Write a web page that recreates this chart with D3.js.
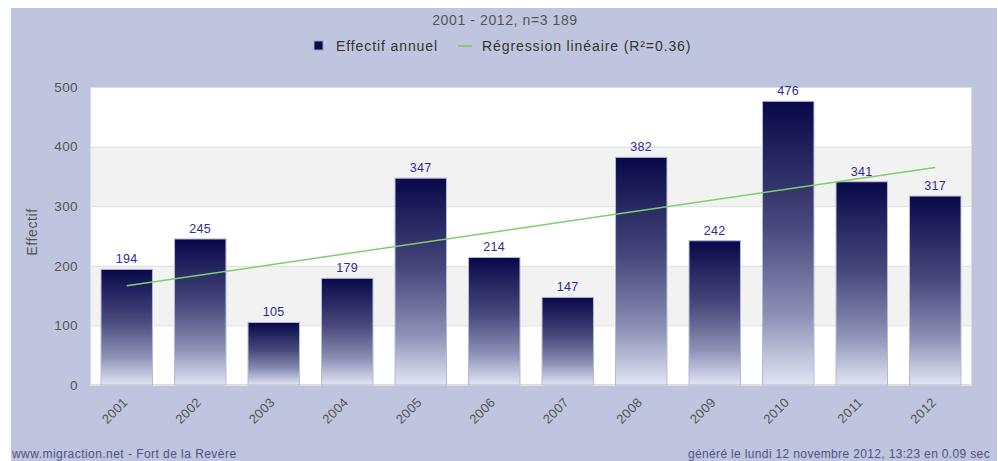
<!DOCTYPE html>
<html><head><meta charset="utf-8">
<script src="https://cdn.jsdelivr.net/npm/d3@7"></script>
<style>html,body{margin:0;padding:0;background:#fff;}svg{display:block;font-family:"Liberation Sans",Arial,sans-serif;}</style>
</head><body><svg id="c" width="998" height="461"></svg>
<script>
const years = ["2001","2002","2003","2004","2005","2006","2007","2008","2009","2010","2011","2012"];
const counts = [194,245,105,179,347,214,147,382,242,476,341,317];
const yTicks = [0,100,200,300,400,500];
const title = "2001 - 2012, n=3 189";
const legendLabels = ["Effectif annuel","Régression linéaire (R²=0.36)"];
const yTitle = "Effectif";
const footerLeft = "www.migraction.net - Fort de la Revère";
const footerRight = "généré le lundi 12 novembre 2012, 13:23 en 0.09 sec";

const svg = d3.select("#c");
svg.append("rect").attr("x",11).attr("y",8).attr("width",986).attr("height",453).attr("fill","#bfc5de");

const m = {l:90, r:972, t:87, b:385};
const x = d3.scaleBand().domain(years).range([m.l,m.r]).paddingInner(0.3).paddingOuter(0.15);
const y = d3.scaleLinear().domain([0,500]).range([m.b,m.t]);

const g = svg.append("g");
g.append("rect").attr("x",m.l).attr("y",m.t).attr("width",m.r-m.l).attr("height",m.b-m.t).attr("fill","#fff");
for (let i=0;i<yTicks.length-1;i++){
  if (i%2===1) g.append("rect").attr("x",m.l).attr("y",y(yTicks[i+1])).attr("width",m.r-m.l)
    .attr("height",y(yTicks[i])-y(yTicks[i+1])).attr("fill","#f2f2f2");
}
g.selectAll("line.grid").data(yTicks).join("line").attr("class","grid")
  .attr("x1",m.l).attr("x2",m.r).attr("y1",d=>y(d)+0.5).attr("y2",d=>y(d)+0.5)
  .attr("stroke","#e0e0e0").attr("stroke-width",1);
g.append("rect").attr("x",m.l+0.5).attr("y",m.t+0.5).attr("width",m.r-m.l-1).attr("height",m.b-m.t-1)
  .attr("fill","none").attr("stroke","#dcdcdc");

const defs = svg.append("defs");
const grad = defs.append("linearGradient").attr("id","bg").attr("x1",0).attr("y1",0).attr("x2",0).attr("y2",1);
grad.append("stop").attr("offset","0%").attr("stop-color","#08084a");
grad.append("stop").attr("offset","45%").attr("stop-color","#4a4a7e");
grad.append("stop").attr("offset","75%").attr("stop-color","#8c8fb5");
grad.append("stop").attr("offset","100%").attr("stop-color","#e2e5f4");

svg.selectAll("rect.bar").data(counts).join("rect").attr("class","bar")
  .attr("x",(d,i)=>x(years[i])).attr("width",x.bandwidth())
  .attr("y",d=>y(d)).attr("height",d=>y(0)-y(d))
  .attr("fill","url(#bg)").attr("stroke","#b4bad6").attr("stroke-width",1);

svg.selectAll("text.val").data(counts).join("text").attr("class","val")
  .attr("x",(d,i)=>x(years[i])+x.bandwidth()/2).attr("y",d=>y(d)-6)
  .attr("text-anchor","middle").attr("font-size",12.5).attr("letter-spacing",0.3).attr("fill","#2c2c96").text(d=>d);

// regression computed from data
const n = counts.length;
const xs = counts.map((d,i)=>i+1);
const mx = d3.mean(xs), my = d3.mean(counts);
const slope = d3.sum(xs.map((xv,i)=>(xv-mx)*(counts[i]-my)))/d3.sum(xs.map(xv=>(xv-mx)**2));
const icpt = my - slope*mx;
const line = d3.line().x(d=>x(years[d-1])+x.bandwidth()/2).y(d=>y(icpt+slope*d));
svg.append("path").attr("d",line([1,n])).attr("fill","none").attr("stroke","#7fce6f").attr("stroke-width",1.5);

const ya = svg.append("g").attr("transform",`translate(${m.l},0)`)
  .call(d3.axisLeft(y).tickValues(yTicks).tickSize(0).tickPadding(12));
ya.select(".domain").remove();
ya.selectAll("text").attr("font-size",13.5).attr("letter-spacing",0.4).attr("fill","#555").attr("font-family","Liberation Sans, Arial, sans-serif");

const xa = svg.append("g").attr("transform",`translate(0,${m.b})`)
  .call(d3.axisBottom(x).tickSize(0).tickPadding(0));
xa.select(".domain").remove();
xa.selectAll("text").attr("font-size",13).attr("letter-spacing",0.4).attr("fill","#555").attr("font-family","Liberation Sans, Arial, sans-serif")
  .attr("text-anchor","end").attr("dy",0).attr("y",0)
  .attr("transform","translate(2,18) rotate(-45)");

svg.append("text").attr("transform","translate(37,232) rotate(-90)").attr("text-anchor","middle")
  .attr("font-size",14).attr("letter-spacing",0.6).attr("fill","#555").text(yTitle);

svg.append("text").attr("x",505).attr("y",25).attr("text-anchor","middle").attr("font-size",14).attr("letter-spacing",0.6).attr("fill","#555").text(title);
svg.append("rect").attr("x",314).attr("y",41).attr("width",9).attr("height",9).attr("fill","#0a0a4a").attr("stroke","#9aa0c4");
svg.append("text").attr("x",336).attr("y",51).attr("font-size",14).attr("letter-spacing",0.9).attr("fill","#333").text(legendLabels[0]);
svg.append("line").attr("x1",458).attr("x2",472).attr("y1",46).attr("y2",46).attr("stroke","#7fce6f").attr("stroke-width",2);
svg.append("text").attr("x",482).attr("y",51).attr("font-size",14).attr("letter-spacing",0.9).attr("fill","#333").text(legendLabels[1]);

svg.append("text").attr("x",12).attr("y",458).attr("font-size",12).attr("letter-spacing",0.45).attr("fill","#50508a").text(footerLeft);
svg.append("text").attr("x",990).attr("y",458).attr("text-anchor","end").attr("font-size",12).attr("letter-spacing",0.35).attr("fill","#50508a").text(footerRight);
</script></body></html>
